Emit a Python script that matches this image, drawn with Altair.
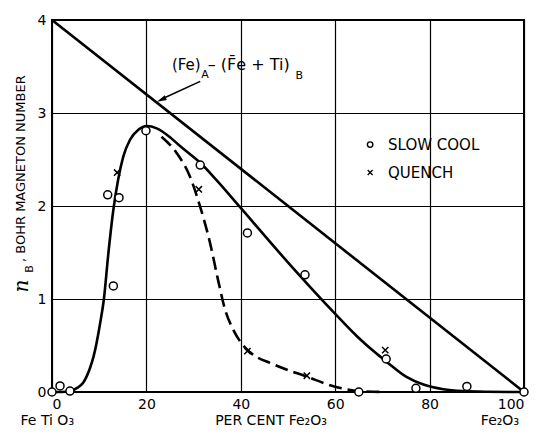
import altair as alt
import pandas as pd

# Theoretical line (Fe)A - (Fe + Ti)B
ideal_x = [0, 100]
ideal_y = [4, 0]

# Slow-cool curve (solid)
slow_curve_x = [0, 2, 3.8, 5.5, 6.6, 8, 8.8, 10.2, 11, 11.9, 13.0, 14.0, 15.1, 16.5, 18.3, 20.1,
                22.2, 25.0, 27.0, 29.2, 31.4, 35.0, 39.8, 50.4, 60, 64.6, 68.8, 71.0, 75.0, 78.7, 82.9, 87, 92, 100]
slow_curve_y = [0, 0, 0.01, 0.05, 0.1, 0.25, 0.38, 0.74, 1.0, 1.47, 1.96, 2.28, 2.53, 2.71, 2.82, 2.86,
                2.835, 2.74, 2.65, 2.56, 2.465, 2.27, 1.99, 1.37, 0.84, 0.60, 0.41, 0.32, 0.165, 0.08, 0.03, 0.01, 0.003, 0]

# Quench curve (dashed)
quench_curve_x = [23.2, 26.4, 29.2, 31.4, 33.5, 35.2, 36.7, 38.4, 40.2, 41.9, 46.8, 54, 59.8, 65, 70.2]
quench_curve_y = [2.745, 2.57, 2.32, 1.99, 1.6, 1.2, 0.88, 0.67, 0.52, 0.43, 0.30, 0.165, 0.06, 0.01, 0.0]

# Measured points
slow_pts_x = [0, 1.7, 3.8, 11.8, 14.2, 13.0, 19.9, 31.4, 41.4, 53.6, 70.8, 65.0, 77.1, 87.9, 100]
slow_pts_y = [0, 0.065, 0.01, 2.12, 2.09, 1.14, 2.81, 2.44, 1.71, 1.26, 0.355, 0.0, 0.04, 0.06, 0]
quench_pts_x = [13.8, 31.1, 41.4, 54.0, 70.6]
quench_pts_y = [2.36, 2.18, 0.44, 0.175, 0.45]

x_ticks = [0, 20, 40, 60, 80, 100]
y_ticks = [0, 1, 2, 3, 4]

FONT = "DejaVu Sans"
XS = alt.Scale(domain=[0, 100], nice=False, zero=False)
YS = alt.Scale(domain=[0, 4], nice=False, zero=False)
X = lambda: alt.X("x:Q", scale=XS, title=None,
                  axis=alt.Axis(values=x_ticks, labelPadding=5))
Y = lambda: alt.Y("y:Q", scale=YS, title=None,
                  axis=alt.Axis(values=y_ticks, labelPadding=6))

ideal = alt.Chart(pd.DataFrame({"x": ideal_x, "y": ideal_y})).mark_line(
    color="black", strokeWidth=2.6).encode(x=X(), y=Y())

slow_curve = alt.Chart(pd.DataFrame({"x": slow_curve_x, "y": slow_curve_y})).mark_line(
    color="black", strokeWidth=2.6, interpolate="monotone").encode(x=X(), y=Y())

quench_curve = alt.Chart(pd.DataFrame({"x": quench_curve_x, "y": quench_curve_y})).mark_line(
    color="black", strokeWidth=2.6, strokeDash=[13, 6], interpolate="monotone").encode(x=X(), y=Y())

CROSS = "M-1,-1L1,1M-1,1L1,-1"

slow_pts = alt.Chart(pd.DataFrame({"x": slow_pts_x, "y": slow_pts_y})).mark_point(
    shape="circle", size=64, filled=True, fill="white", stroke="black", strokeWidth=1.5,
    opacity=1).encode(x=X(), y=Y())

quench_pts = alt.Chart(pd.DataFrame({"x": quench_pts_x, "y": quench_pts_y})).mark_point(
    shape=CROSS, size=40, filled=False, stroke="black", strokeWidth=1.5,
    opacity=1).encode(x=X(), y=Y())

# Legend
leg_circle = alt.Chart(pd.DataFrame({"x": [67.4], "y": [2.66]})).mark_point(
    shape="circle", size=30, filled=False, stroke="black", strokeWidth=1.4,
    opacity=1).encode(x=X(), y=Y())
leg_cross = alt.Chart(pd.DataFrame({"x": [67.4], "y": [2.36]})).mark_point(
    shape=CROSS, size=24, filled=False, stroke="black", strokeWidth=1.3,
    opacity=1).encode(x=X(), y=Y())
leg_text = alt.Chart(pd.DataFrame({"x": [71.2, 71.2], "y": [2.66, 2.36],
                                   "t": ["SLOW COOL", "QUENCH"]})).mark_text(
    align="left", baseline="middle", font=FONT, fontSize=15, color="black").encode(
    x=X(), y=Y(), text="t:N")

# Annotation label with arrow
ann_fe = alt.Chart(pd.DataFrame({"x": [25.4], "y": [3.52], "t": ["(Fe)"]})).mark_text(
    align="left", baseline="middle", font=FONT, fontSize=15, color="black").encode(
    x=X(), y=Y(), text="t:N")
ann_rest = alt.Chart(pd.DataFrame({"x": [33.0], "y": [3.52],
                                   "t": ["\u2013  (F\u0304e + Ti)"]})).mark_text(
    align="left", baseline="middle", font=FONT, fontSize=16, color="black").encode(
    x=X(), y=Y(), text="t:N")
ann_sub = alt.Chart(pd.DataFrame({"x": [31.6, 51.6], "y": [3.41, 3.40],
                                  "t": ["A", "B"]})).mark_text(
    align="left", baseline="middle", font=FONT, fontSize=11, color="black").encode(
    x=X(), y=Y(), text="t:N")
arrow_line = alt.Chart(pd.DataFrame({"x": [31.4, 23.5], "y": [3.34, 3.155]})).mark_line(
    color="black", strokeWidth=1.6).encode(x=X(), y=Y())
arrow_head = alt.Chart(pd.DataFrame({"x": [22.2], "y": [3.12]})).mark_point(
    shape="M0,0L-0.5,2L0.5,2Z", size=100, filled=True, color="black", opacity=1,
    angle=245).encode(x=X(), y=Y())

# Bottom labels
bottom = alt.Chart(pd.DataFrame({"x": [-1.0, 46.4, 94.9],
                                 "t": ["Fe Ti O\u2083", "PER CENT  Fe\u2082O\u2083", "Fe\u2082O\u2083"]})).mark_text(
    align="center", baseline="middle", font=FONT, fontSize=14, color="black").encode(
    x=X(), y=alt.value(401), text="t:N")

# Y-axis title pieces (rotated)
ytitle_n = alt.Chart(pd.DataFrame({"t": ["n"]})).mark_text(
    angle=270, align="center", baseline="middle", font="DejaVu Serif", fontStyle="italic",
    fontSize=20, color="black").encode(x=alt.value(-30), y=alt.value(266), text="t:N")
ytitle_b = alt.Chart(pd.DataFrame({"t": ["B"]})).mark_text(
    angle=270, align="center", baseline="middle", font=FONT,
    fontSize=11, color="black").encode(x=alt.value(-22.5), y=alt.value(249), text="t:N")
ytitle_rest = alt.Chart(pd.DataFrame({"t": [", BOHR MAGNETON NUMBER"]})).mark_text(
    angle=270, align="left", baseline="middle", font=FONT,
    fontSize=13, color="black").encode(x=alt.value(-31), y=alt.value(242), text="t:N")

chart = alt.layer(
    ideal, slow_curve, quench_curve, slow_pts, quench_pts,
    leg_circle, leg_cross, leg_text, ann_fe, ann_rest, ann_sub, arrow_line, arrow_head,
    bottom, ytitle_n, ytitle_b, ytitle_rest
).properties(
    width=472, height=372,
    autosize=alt.AutoSizeParams(type="none"),
    padding={"left": 44, "top": 12, "right": 21, "bottom": 38},
    background="white",
).configure_view(
    stroke="black", strokeWidth=2
).configure_axis(
    grid=True, gridColor="black", gridOpacity=1, gridWidth=1.2,
    domain=False, ticks=False,
    labelFont=FONT, labelFontSize=14, labelColor="black",
)

chart.save("out.html", embed_options={"renderer": "svg", "actions": False})
